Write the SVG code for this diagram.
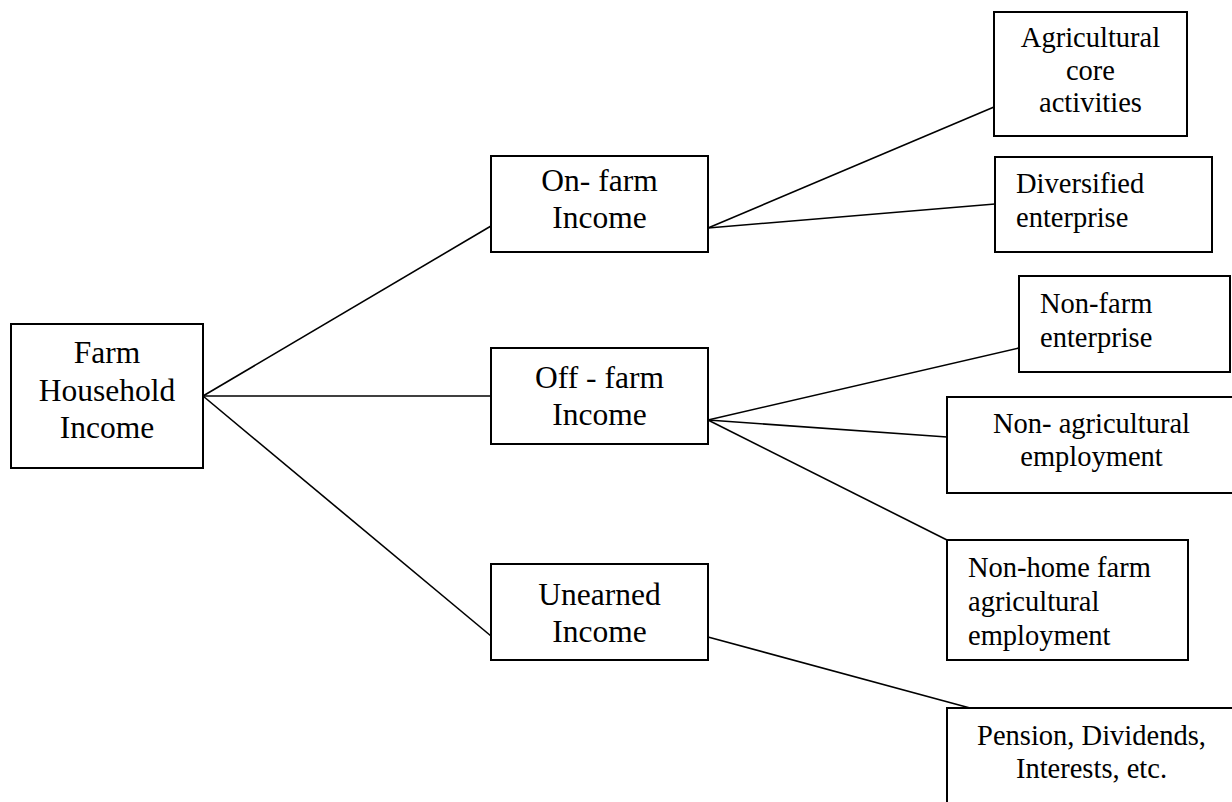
<svg xmlns="http://www.w3.org/2000/svg" width="1232" height="802" viewBox="0 0 1232 802">
<style>
.box{fill:#fff;stroke:#000;stroke-width:2}
.ln{stroke:#000;stroke-width:1.6;fill:none}
.t{font-family:"Liberation Serif","Times New Roman",serif;fill:#000}
.big{font-size:31.5px}
.sm{font-size:28.5px}
.c{text-anchor:middle}
</style>
<rect width="1232" height="802" fill="#fff"/>
<g id="connectors">
<line class="ln" x1="203" y1="396" x2="491" y2="226"/>
<line class="ln" x1="203" y1="396" x2="491" y2="396"/>
<line class="ln" x1="203" y1="396" x2="491" y2="636"/>
<line class="ln" x1="708" y1="228" x2="994" y2="107"/>
<line class="ln" x1="708" y1="228" x2="995" y2="204"/>
<line class="ln" x1="708" y1="420" x2="1019" y2="348"/>
<line class="ln" x1="708" y1="420" x2="947" y2="437"/>
<line class="ln" x1="708" y1="420" x2="947" y2="540"/>
<line class="ln" x1="708" y1="637" x2="970" y2="708"/>
</g>
<g id="farm-household-income">
<rect class="box" x="11" y="324" width="192" height="144"/>
<text class="t big c" x="107" y="363">Farm</text>
<text class="t big c" x="107" y="401">Household</text>
<text class="t big c" x="107" y="438">Income</text>
</g>
<g id="on-farm-income">
<rect class="box" x="491" y="156" width="217" height="96"/>
<text class="t big c" x="599.5" y="191">On- farm</text>
<text class="t big c" x="599.5" y="228">Income</text>
</g>
<g id="off-farm-income">
<rect class="box" x="491" y="348" width="217" height="96"/>
<text class="t big c" x="599.5" y="388">Off - farm</text>
<text class="t big c" x="599.5" y="425">Income</text>
</g>
<g id="unearned-income">
<rect class="box" x="491" y="564" width="217" height="96"/>
<text class="t big c" x="599.5" y="605">Unearned</text>
<text class="t big c" x="599.5" y="642">Income</text>
</g>
<g id="agricultural-core">
<rect class="box" x="994" y="12" width="193" height="124"/>
<text class="t sm c" x="1090.5" y="47">Agricultural</text>
<text class="t sm c" x="1090.5" y="80">core</text>
<text class="t sm c" x="1090.5" y="112">activities</text>
</g>
<g id="diversified-enterprise">
<rect class="box" x="995" y="157" width="217" height="95"/>
<text class="t sm" x="1016" y="193">Diversified</text>
<text class="t sm" x="1016" y="227">enterprise</text>
</g>
<g id="non-farm-enterprise">
<rect class="box" x="1019" y="276" width="211" height="96"/>
<text class="t sm" x="1040" y="313">Non-farm</text>
<text class="t sm" x="1040" y="347">enterprise</text>
</g>
<g id="non-agricultural-employment">
<rect class="box" x="947" y="397" width="289" height="96"/>
<text class="t sm c" x="1091.5" y="433">Non- agricultural</text>
<text class="t sm c" x="1091.5" y="466">employment</text>
</g>
<g id="non-home-farm">
<rect class="box" x="947" y="540" width="241" height="120"/>
<text class="t sm" x="968" y="577">Non-home farm</text>
<text class="t sm" x="968" y="611">agricultural</text>
<text class="t sm" x="968" y="645">employment</text>
</g>
<g id="pension">
<rect class="box" x="947" y="708" width="289" height="100"/>
<text class="t sm c" x="1091.5" y="745">Pension, Dividends,</text>
<text class="t sm c" x="1091.5" y="778">Interests, etc.</text>
</g>
</svg>
